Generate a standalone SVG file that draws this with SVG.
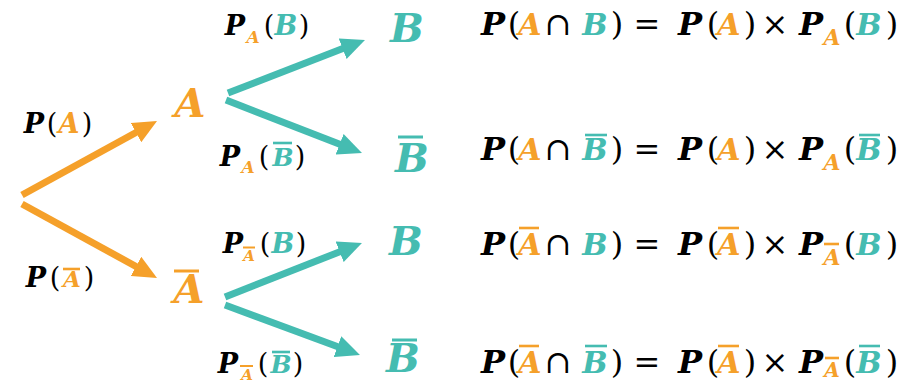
<svg xmlns="http://www.w3.org/2000/svg" width="915" height="383" viewBox="0 0 915 383">
<style>
.v{font-family:"DejaVu Serif","Liberation Serif",serif;font-weight:bold;font-style:italic;text-anchor:middle}
.u{font-family:"DejaVu Serif","DejaVu Sans",serif;font-weight:normal;font-style:normal;text-anchor:middle}
.k{fill:#000}
.o{fill:#F5A02A}
.t{fill:#45BCB1}
.ob{stroke:#F5A02A;stroke-width:2.6}
.tb{stroke:#45BCB1;stroke-width:2.6}
.eq{font-size:32px}
.eqv{font-size:30px}
.sub{font-size:22px}
.lb{font-size:27px}
.ls{font-size:17px}
.nd{font-size:40px}
.ao{stroke:#F5A02A;stroke-width:7;fill:none;marker-end:url(#hO)}
.at{stroke:#45BCB1;stroke-width:7;fill:none;marker-end:url(#hT)}
</style>
<defs>
<marker id="hO" viewBox="0 0 24 22" markerWidth="24" markerHeight="22" refX="12" refY="11" orient="auto" markerUnits="userSpaceOnUse"><path d="M0,0 L24,11 L0,22 Z" fill="#F5A02A"/></marker>
<marker id="hT" viewBox="0 0 24 22" markerWidth="24" markerHeight="22" refX="12" refY="11" orient="auto" markerUnits="userSpaceOnUse"><path d="M0,0 L24,11 L0,22 Z" fill="#45BCB1"/></marker>
</defs>
<rect width="915" height="383" fill="#fff"/>
<g id="connectors">
<line class="ao" x1="22" y1="195" x2="146.5" y2="126.8"/>
<line class="ao" x1="22" y1="204" x2="146.5" y2="272.2"/>
<line class="at" x1="228" y1="93" x2="353.8" y2="44.3"/>
<line class="at" x1="226" y1="100" x2="350.8" y2="148.6"/>
<line class="at" x1="225" y1="297" x2="350.8" y2="247.4"/>
<line class="at" x1="225" y1="305" x2="348.7" y2="350.8"/>
</g>
<g id="labels">
<g id="lbl-PA">
<text class="v k lb" x="34" y="133">P</text>
<text class="u k lb" x="52" y="133">(</text>
<text class="v o lb" x="69" y="133">A</text>
<text class="u k lb" x="87" y="133">)</text>
</g>
<g id="lbl-PAbar">
<text class="v k lb" x="36" y="287">P</text>
<text class="u k lb" x="55" y="287">(</text>
<text class="v o" style="font-size:23px" x="72" y="287">A</text>
<line class="ob" x1="63" y1="269" x2="80" y2="269"/>
<text class="u k lb" x="89" y="287">)</text>
</g>
<g id="lbl-PA-B">
<text class="v k lb" x="235" y="35">P</text>
<text class="v o ls" x="253" y="43">A</text>
<text class="u k lb" x="269" y="35">(</text>
<text class="v t lb" x="286" y="35">B</text>
<text class="u k lb" x="304" y="35">)</text>
</g>
<g id="lbl-PA-Bbar">
<text class="v k lb" x="230" y="166">P</text>
<text class="v o ls" x="248" y="173">A</text>
<text class="u k lb" x="264" y="166">(</text>
<text class="v t" style="font-size:25px" x="283" y="166">B</text>
<line class="tb" x1="273" y1="143" x2="292" y2="143"/>
<text class="u k lb" x="300" y="166">)</text>
</g>
<g id="lbl-PAbar-B">
<text class="v k lb" x="233" y="253">P</text>
<text class="v o" style="font-size:15px" x="249" y="261">A</text>
<line class="ob" style="stroke-width:2" x1="243" y1="247.5" x2="255" y2="247.5"/>
<text class="u k lb" x="265" y="253">(</text>
<text class="v t lb" x="283" y="253">B</text>
<text class="u k lb" x="301" y="253">)</text>
</g>
<g id="lbl-PAbar-Bbar">
<text class="v k lb" x="228" y="373">P</text>
<text class="v o" style="font-size:15px" x="247" y="380">A</text>
<line class="ob" style="stroke-width:2" x1="240" y1="366" x2="253" y2="366"/>
<text class="u k lb" x="263" y="373">(</text>
<text class="v t" style="font-size:25px" x="281" y="373">B</text>
<line class="tb" x1="272" y1="352" x2="290" y2="352"/>
<text class="u k lb" x="298" y="373">)</text>
</g>
</g>
<g id="node-A"><text class="v o nd" x="190" y="117">A</text></g>
<g id="node-Abar"><text class="v o nd" x="189" y="303">A</text><line class="ob" style="stroke-width:3" x1="174" y1="271" x2="199" y2="271"/></g>
<g id="node-B1"><text class="v t nd" x="407" y="42">B</text></g>
<g id="node-Bbar1"><text class="v t nd" x="412" y="172">B</text><line class="tb" style="stroke-width:3" x1="398" y1="137" x2="423" y2="137"/></g>
<g id="node-B2"><text class="v t nd" x="406" y="255">B</text></g>
<g id="node-Bbar2"><text class="v t nd" x="403" y="372">B</text><line class="tb" style="stroke-width:3" x1="392" y1="340" x2="417" y2="340"/></g>
<g id="eq1">
<text class="v k eq" x="493" y="35">P</text><text class="u k eq" x="514" y="35">(</text><text class="v o eqv" x="530" y="35">A</text><text class="u k eq" x="558" y="35">∩</text><text class="v t eqv" x="595" y="35">B</text><text class="u k eq" x="617" y="35">)</text>
<text class="u k eq" x="647" y="35">=</text>
<text class="v k eq" x="690" y="35">P</text><text class="u k eq" x="713" y="35">(</text><text class="v o eqv" x="729" y="35">A</text><text class="u k eq" x="750" y="35">)</text>
<text class="u k eq" x="775" y="35">×</text>
<text class="v k eq" x="811" y="35">P</text><text class="v o sub" x="832" y="45">A</text><text class="u k eq" x="850" y="35">(</text><text class="v t eqv" x="869" y="35">B</text><text class="u k eq" x="892" y="35">)</text>
</g>
<g id="eq2">
<text class="v k eq" x="493" y="160">P</text><text class="u k eq" x="514" y="160">(</text><text class="v o eqv" x="530" y="160">A</text><text class="u k eq" x="558" y="160">∩</text><text class="v t eqv" x="595" y="160">B</text><text class="u k eq" x="617" y="160">)</text>
<text class="u k eq" x="647" y="160">=</text>
<text class="v k eq" x="690" y="160">P</text><text class="u k eq" x="713" y="160">(</text><text class="v o eqv" x="729" y="160">A</text><text class="u k eq" x="750" y="160">)</text>
<text class="u k eq" x="775" y="160">×</text>
<text class="v k eq" x="811" y="160">P</text><text class="v o sub" x="832" y="170">A</text><text class="u k eq" x="850" y="160">(</text><text class="v t eqv" x="869" y="160">B</text><text class="u k eq" x="892" y="160">)</text>
<line class="tb" x1="585" y1="135" x2="607" y2="135"/>
<line class="tb" x1="859" y1="135" x2="880" y2="135"/>
</g>
<g id="eq3">
<text class="v k eq" x="493" y="255">P</text><text class="u k eq" x="514" y="255">(</text><text class="v o eqv" x="530" y="255">A</text><text class="u k eq" x="558" y="255">∩</text><text class="v t eqv" x="595" y="255">B</text><text class="u k eq" x="617" y="255">)</text>
<text class="u k eq" x="647" y="255">=</text>
<text class="v k eq" x="690" y="255">P</text><text class="u k eq" x="713" y="255">(</text><text class="v o eqv" x="729" y="255">A</text><text class="u k eq" x="750" y="255">)</text>
<text class="u k eq" x="775" y="255">×</text>
<text class="v k eq" x="811" y="255">P</text><text class="v o sub" x="832" y="265">A</text><text class="u k eq" x="850" y="255">(</text><text class="v t eqv" x="869" y="255">B</text><text class="u k eq" x="892" y="255">)</text>
<line class="ob" x1="519" y1="228" x2="539" y2="228"/>
<line class="ob" x1="718" y1="228" x2="739" y2="228"/>
<line class="ob" x1="824" y1="244" x2="839" y2="244"/>
</g>
<g id="eq4">
<text class="v k eq" x="493" y="373">P</text><text class="u k eq" x="514" y="373">(</text><text class="v o eqv" x="530" y="373">A</text><text class="u k eq" x="558" y="373">∩</text><text class="v t eqv" x="595" y="373">B</text><text class="u k eq" x="617" y="373">)</text>
<text class="u k eq" x="647" y="373">=</text>
<text class="v k eq" x="690" y="373">P</text><text class="u k eq" x="713" y="373">(</text><text class="v o eqv" x="729" y="373">A</text><text class="u k eq" x="750" y="373">)</text>
<text class="u k eq" x="775" y="373">×</text>
<text class="v k eq" x="811" y="373">P</text><text class="v o" style="font-size:20px" x="832" y="377">A</text><text class="u k eq" x="850" y="373">(</text><text class="v t eqv" x="869" y="373">B</text><text class="u k eq" x="892" y="373">)</text>
<line class="ob" x1="825" y1="358" x2="839" y2="358"/>
<line class="ob" x1="519" y1="346" x2="539" y2="346"/>
<line class="tb" x1="585" y1="346" x2="607" y2="346"/>
<line class="ob" x1="718" y1="346" x2="739" y2="346"/>
<line class="tb" x1="859" y1="346" x2="880" y2="346"/>
</g>
</svg>
